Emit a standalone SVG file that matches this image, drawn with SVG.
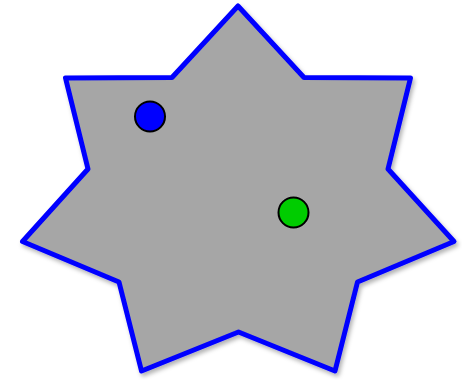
<svg xmlns="http://www.w3.org/2000/svg" width="462" height="380" viewBox="0 0 462 380">
<defs>
<filter id="sh" x="-10%" y="-10%" width="120%" height="120%">
<feDropShadow dx="2" dy="3" stdDeviation="2" flood-color="#000" flood-opacity="0.3"/>
</filter>
<style>
.star{fill:#a6a6a6;stroke:#0000ff;stroke-width:5;stroke-linejoin:round}
.dot{stroke:#000;stroke-width:2}
</style>
</defs>
<rect width="462" height="380" fill="#fff"/>
<g id="star">
<polygon class="star" filter="url(#sh)" points="238,6 304,77.5 410.5,78 388,169 454,241.5 357.5,282 335,371 238.5,332 141.5,371 119,282 22.5,241.5 88,169 65.5,78 172,77.5"/>
</g>
<g id="blue-dot"><circle class="dot" cx="150" cy="116.5" r="15" fill="#0000ff"/></g>
<g id="green-dot"><circle class="dot" cx="293.5" cy="212.5" r="15" fill="#00cc00"/></g>
</svg>
